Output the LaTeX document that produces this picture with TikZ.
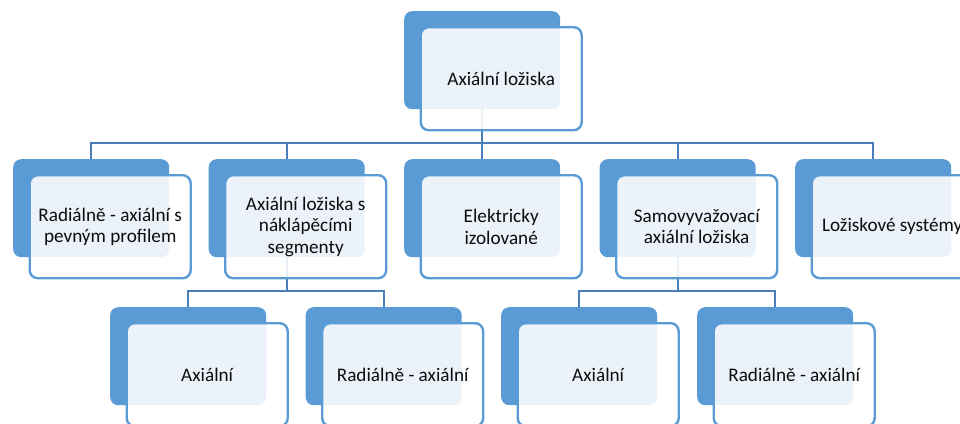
\documentclass[tikz,border=0pt]{standalone}
\usepackage{fontspec}
\setmainfont{Carlito}
\usetikzlibrary{backgrounds}
\definecolor{fillblue}{RGB}{91,155,213}
\definecolor{lineblue}{RGB}{74,126,187}
\definecolor{txt}{RGB}{13,13,13}
\tikzset{
 backbox/.style={fill=fillblue, rounded corners=8pt, minimum width=156pt, minimum height=98pt, inner sep=0pt, anchor=north west},
 frontbox/.style={draw=fillblue, line width=2.4pt, fill=white, fill opacity=0.88, draw opacity=1, text opacity=1, rounded corners=8pt, minimum width=161pt, minimum height=103pt, inner sep=0pt, anchor=north west, align=center, font=\fontsize{19.2}{21.5}\selectfont, text=txt},
 conn/.style={draw=lineblue, line width=2.2pt}
}
\newcommand\mybox[4]{%
 \node[backbox] (#1) at (#2,#3) {};
 \node[frontbox] (#1f) at (#2+15.5,#3+15) {#4};
}
\begin{document}
\begin{tikzpicture}[x=1pt,y=-1pt]
\path[use as bounding box] (0,0) rectangle (960,423);
\mybox{t}{404}{11}{Axiální ložiska}
\mybox{a1}{13}{159}{Radiálně - axiální s\\pevným profilem}
\mybox{a2}{208.5}{159}{Axiální ložiska s\\náklápěcími\\segmenty}
\mybox{a3}{404}{159}{Elektricky\\izolované}
\mybox{a4}{599.5}{159}{Samovyvažovací\\axiální ložiska}
\mybox{a5}{795}{159}{Ložiskové systémy}
\mybox{b1}{110}{307}{Axiální}
\mybox{b2}{305.5}{307}{Radiálně - axiální}
\mybox{b3}{501}{307}{Axiální}
\mybox{b4}{697}{307}{Radiálně - axiální}
\coordinate (h1) at (0,143);
\coordinate (h2) at (0,291);
\begin{pgfonlayer}{background}
\foreach \c in {a1,a2,a3,a4,a5}{
 \draw[conn] (t.south) -- (t.south |- h1) -| (\c.north);
}
\foreach \c in {b1,b2}{
 \draw[conn] (a2.south) -- (a2.south |- h2) -| (\c.north);
}
\foreach \c in {b3,b4}{
 \draw[conn] (a4.south) -- (a4.south |- h2) -| (\c.north);
}
\end{pgfonlayer}
\end{tikzpicture}
\end{document}
